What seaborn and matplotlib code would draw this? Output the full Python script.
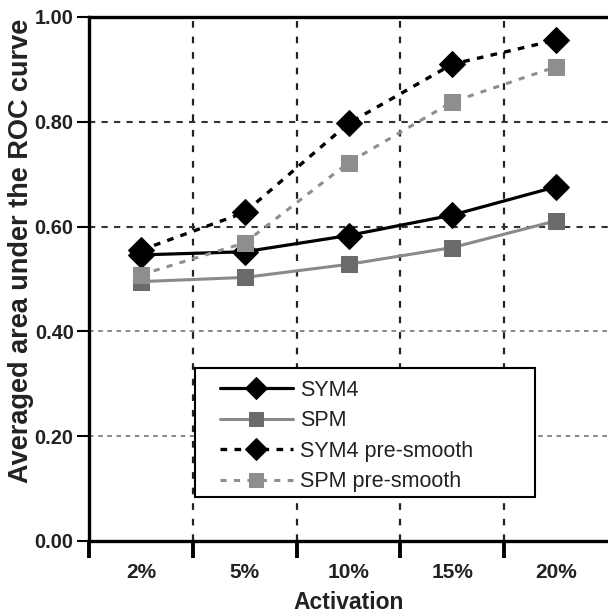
import matplotlib
matplotlib.use("Agg")
import matplotlib.pyplot as plt
from matplotlib.patches import Rectangle
import seaborn as sns
import pandas as pd

categories = ["2%", "5%", "10%", "15%", "20%"]
sym4 = [0.546, 0.552, 0.583, 0.622, 0.676]
spm = [0.495, 0.503, 0.528, 0.560, 0.611]
sym4_pre = [0.555, 0.627, 0.797, 0.910, 0.956]
spm_pre = [0.508, 0.569, 0.722, 0.838, 0.905]
series_names = ["SYM4", "SPM", "SYM4 pre-smooth", "SPM pre-smooth"]
yticks = [0.0, 0.2, 0.4, 0.6, 0.8, 1.0]

sns.set_theme(style="white")
plt.rcParams["font.family"] = ["Liberation Sans", "DejaVu Sans"]

rows = []
for name, vals in zip(series_names, [sym4, spm, sym4_pre, spm_pre]):
    for c, v in zip(categories, vals):
        rows.append({"Activation": c, "AUC": v, "Series": name})
df = pd.DataFrame(rows)

styles = {
    "SYM4": dict(color="black", lw=2.3, ls="-", marker="D", mfc="black", mec="black", ms=13),
    "SPM": dict(color="#8a8a8a", lw=2.2, ls="-", marker="s", mfc="#6b6b6b", mec="#6b6b6b", ms=12),
    "SYM4 pre-smooth": dict(color="black", lw=2.4, ls=(0, (2, 2.2)), marker="D", mfc="black", mec="black", ms=13),
    "SPM pre-smooth": dict(color="#8e8e8e", lw=2.2, ls=(0, (2, 2.4)), marker="s", mfc="#8e8e8e", mec="#8e8e8e", ms=12),
}

fig = plt.figure(figsize=(6.08, 6.13), dpi=100)
ax = fig.add_axes([89/608, (613-541)/613, 1 - 89/608, (541-17)/613])

for name in series_names:
    st = styles[name]
    sub = df[df["Series"] == name]
    sns.lineplot(data=sub, x="Activation", y="AUC", ax=ax, color=st["color"],
                 linewidth=st["lw"], linestyle=st["ls"], marker=st["marker"],
                 markerfacecolor=st["mfc"], markeredgecolor=st["mec"],
                 markersize=st["ms"], label=name, sort=False, zorder=3)

ax.set_xlim(-0.5, 4.5)
ax.set_ylim(0, 1.0)

# grid lines
for xb in [0.5, 1.5, 2.5, 3.5]:
    ax.axvline(xb, color="#222222", lw=1.6, ls=(0, (3, 4)), zorder=1)
for yv in [0.2, 0.4, 0.6, 0.8]:
    ax.axhline(yv, color="#333333" if yv >= 0.6 else "#666666", lw=1.5 if yv >= 0.6 else 1.1,
               ls=(0, (3, 3)), zorder=1)

# x ticks: marks at boundaries, labels at centers
ax.set_xticks([-0.5, 0.5, 1.5, 2.5, 3.5])
ax.set_xticklabels([])
ax.tick_params(axis="x", which="major", direction="out", length=12, width=2.8, color="black", bottom=True)
ax.set_xticks(range(len(categories)), minor=True)
ax.set_xticklabels(categories, minor=True, fontsize=15, fontweight="bold", color="#222222")
ax.tick_params(axis="x", which="minor", length=0, pad=16)

ax.set_yticks(yticks)
ax.set_yticklabels([f"{v:.2f}" for v in yticks], fontsize=14.3, fontweight="bold", color="#222222")
ax.tick_params(axis="y", direction="out", length=9, width=1.5, color="black", left=True, pad=2)

ax.set_xlabel("Activation", fontsize=16.5, fontweight="bold", color="#222222", labelpad=6.5)
ax.set_ylabel("Averaged area under the ROC curve", fontsize=19.5, fontweight="bold", color="#222222")
ax.yaxis.set_label_coords((34 - 89) / 520, (541 - 251) / 524)

for s in ["left", "top", "bottom"]:
    ax.spines[s].set_visible(True)
    ax.spines[s].set_color("black")
    ax.spines[s].set_linewidth(2.4)
ax.spines["right"].set_visible(False)

# legend frame
frame = Rectangle(((195 - 89) / 520, (541 - 497) / 524), (536 - 195) / 520, (497 - 368) / 524,
                  transform=ax.transAxes, facecolor="white", edgecolor="black", lw=1.5, zorder=4)
ax.add_patch(frame)
leg = ax.legend(loc="upper left", bbox_to_anchor=((220 - 89) / 520, (541 - 380) / 524),
                fontsize=15.5, frameon=False, borderpad=0, labelspacing=0.44, markerscale=0.85,
                handlelength=3.4, handletextpad=0.35, borderaxespad=0)
leg.set_zorder(5)
for t in leg.get_texts():
    t.set_color("#222222")

fig.savefig("out.png", dpi=100)
